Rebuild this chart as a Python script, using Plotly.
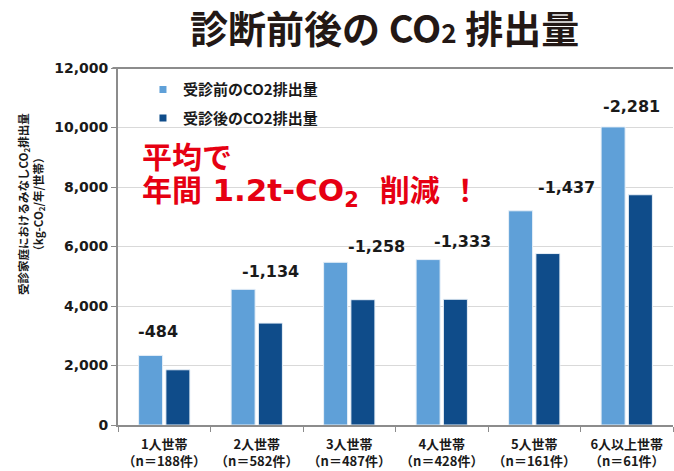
import plotly.graph_objects as go

categories = ["1人世帯", "2人世帯", "3人世帯", "4人世帯", "5人世帯", "6人以上世帯"]
sample_counts = ["188", "582", "487", "428", "161", "61"]
before_values = [2340, 4560, 5470, 5560, 7200, 10020]
after_values = [1856, 3426, 4212, 4227, 5763, 7739]
reduction_labels = [-484, -1134, -1258, -1333, -1437, -2281]
y_ticks = [0, 2000, 4000, 6000, 8000, 10000, 12000]

# label placement tweaks (pixels), styling only
label_xshift = [-6, 14, 27, 21, 32, 5]
label_yshift = [24, 18, 16, 18, 23, 20]

tick_text = [f"{c}<br>（n＝{n}件）" for c, n in zip(categories, sample_counts)]

JP = "Noto Sans CJK JP"
NUM = "DejaVu Sans, Noto Sans CJK JP"

C_BEFORE = "#5fa0d8"
C_AFTER = "#0f4c8a"

fig = go.Figure()
fig.add_trace(go.Bar(
    x=tick_text, y=before_values, showlegend=False,
    marker=dict(color=C_BEFORE, line=dict(color="#e8f0f8", width=1)),
))
fig.add_trace(go.Bar(
    x=tick_text, y=after_values, showlegend=False,
    marker=dict(color=C_AFTER, line=dict(color="#e8f0f8", width=1)),
))
# legend entries (small square keys)
fig.add_trace(go.Scatter(
    x=[None], y=[None], mode="markers", name="<b>受診前のCO2排出量</b>",
    marker=dict(symbol="square", size=7, color=C_BEFORE), legendgroup="a",
))
fig.add_trace(go.Scatter(
    x=[None], y=[None], mode="markers", name="<b>受診後のCO2排出量</b>",
    marker=dict(symbol="square", size=7, color=C_AFTER), legendgroup="b",
))

for xcat, yv, lab, xs, ys in zip(tick_text, before_values, reduction_labels,
                                  label_xshift, label_yshift):
    fig.add_annotation(
        x=xcat, y=yv, text=f"<b>{lab:,}</b>", showarrow=False,
        xshift=xs, yshift=ys, yanchor="middle",
        font=dict(family=NUM, size=16, color="#1a1a1a"),
    )

# title
fig.add_annotation(
    xref="paper", yref="paper", x=0.48, y=1.0, yshift=42, yanchor="middle",
    text="<b>診断前後の CO<span style='font-size:26px'>2</span> 排出量</b>",
    showarrow=False, font=dict(family=JP, size=38, color="#231815"),
)
# red message
fig.add_annotation(
    xref="paper", yref="paper", x=0.04, y=0.748, xanchor="left", yanchor="middle",
    text="<b>平均で</b>", showarrow=False,
    font=dict(family=NUM, size=30, color="#e60012"),
)
fig.add_annotation(
    xref="paper", yref="paper", x=0.04, y=0.652, xanchor="left", yanchor="middle",
    text="<b>年間 <span style='font-size:31px'>1.2t-CO</span><sub>2</sub>&nbsp;&nbsp;削減&nbsp;！</b>",
    showarrow=False,
    font=dict(family=NUM, size=30, color="#e60012"),
)
# y axis title
fig.add_annotation(
    xref="paper", yref="paper", x=-0.158, y=0.62, xanchor="center", yanchor="middle",
    textangle=-90,
    text="<b>受診家庭におけるみなしCO<sub>2</sub>排出量<br>（kg-CO<sub>2</sub>/年/世帯）</b>",
    showarrow=False, font=dict(family=JP, size=11.5, color="#1a1a1a"),
)
# top frame line
fig.add_shape(type="line", xref="paper", yref="paper", x0=-0.01, x1=1, y0=1, y1=1,
              line=dict(color="#8c8c8c", width=2))

fig.update_layout(
    width=674, height=471,
    margin=dict(l=118, r=1, t=68, b=46),
    paper_bgcolor="white", plot_bgcolor="white",
    barmode="group", bargap=0.41, bargroupgap=0.12,
    showlegend=True,
    legend=dict(
        x=0.045, y=0.985, xanchor="left", yanchor="top",
        font=dict(family=JP, size=15, color="#1a1a1a"),
        bgcolor="rgba(0,0,0,0)", tracegroupgap=6,
        itemwidth=30,
    ),
    xaxis=dict(
        showline=True, linecolor="#8c8c8c", linewidth=2,
        ticks="outside", tickson="boundaries", ticklen=5, tickcolor="#8c8c8c",
        tickfont=dict(family=JP, size=13, color="#1a1a1a", weight="bold"),
        ticklabelstandoff=6,
        showgrid=False, automargin=False,
    ),
    yaxis=dict(
        range=[0, 12000], tickvals=y_ticks, ticktext=[f"{v:,}" for v in y_ticks],
        showline=True, linecolor="#8c8c8c", linewidth=2,
        ticks="outside", ticklen=5, tickcolor="#8c8c8c",
        showgrid=True, gridcolor="#d9d9d9", gridwidth=1,
        tickfont=dict(family=NUM, size=14, color="#1a1a1a", weight="bold"),
        zeroline=False, automargin=False,
    ),
)

fig.write_html("out.html", config={"displayModeBar": False},
               post_script="document.body.style.margin='0px';")
